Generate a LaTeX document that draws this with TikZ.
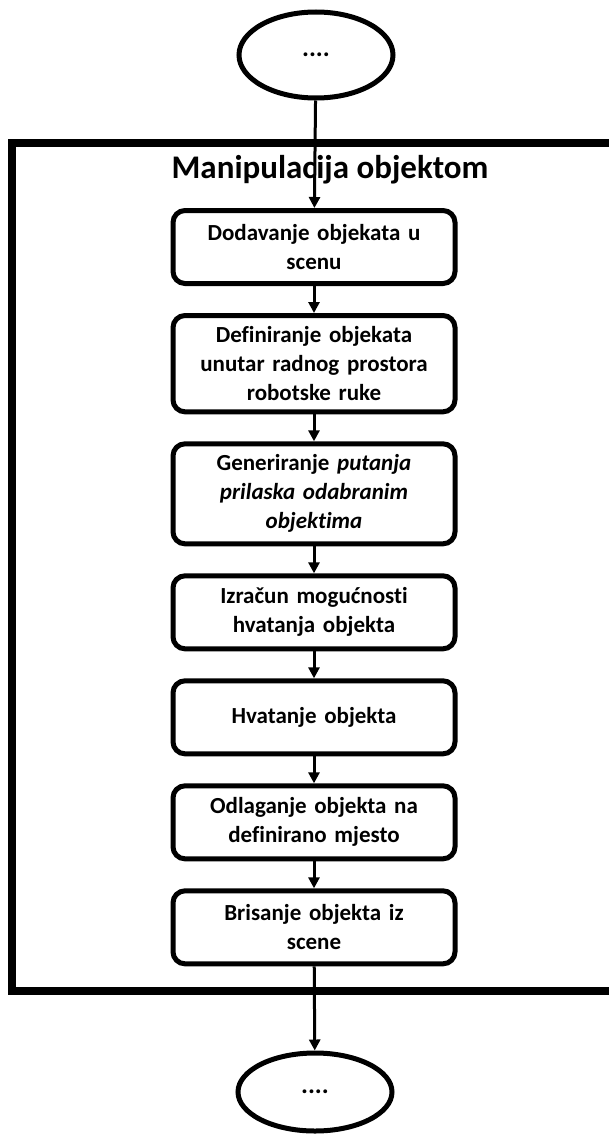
\documentclass[tikz,border=0pt]{standalone}
\usepackage{fontspec}
\setmainfont{Carlito}[Ligatures=NoCommon]
\usetikzlibrary{arrows.meta,positioning,shapes.geometric}

\begin{document}
\begin{tikzpicture}[x=1pt,y=-1pt,node distance=27pt,>={Triangle[length=11pt,width=11pt]},
font=\fontsize{23}{29}\selectfont\bfseries,
stepbox/.style={draw,line width=5pt,rounded corners=12pt,minimum width=282pt,minimum height=73pt,text width=266pt,align=center,inner xsep=5pt,inner ysep=11pt},
term/.style={draw,ellipse,line width=5pt,minimum width=154pt,minimum height=86pt,inner sep=0pt},
frame/.style={draw,line width=8pt},
arr/.style={->,line width=3pt}]
\clip (0,0) rectangle (609,1135);
\draw[frame] (12,143) rectangle (640,991);
\node (title) at (330,170) {\fontsize{33}{38}\selectfont Manipulacija objektom};
\node[term] (start) at (316,55) {\fontsize{26}{30}\selectfont ....};
\node[stepbox] (add) at (314,247) {Dodavanje objekata u\\scenu};
\node[stepbox,below=of add] (def) {Definiranje objekata\\unutar radnog prostora\\robotske ruke};
\node[stepbox,below=of def] (gen) {Generiranje \textit{putanja}\\\textit{prilaska odabranim}\\\textit{objektima}};
\node[stepbox,below=of gen] (calc) {Izračun mogućnosti\\hvatanja objekta};
\node[stepbox,below=of calc] (grasp) {Hvatanje objekta};
\node[stepbox,below=of grasp] (place) {Odlaganje objekta na\\definirano mjesto};
\node[stepbox,below=of place] (del) {Brisanje objekta iz\\scene};
\node[term,minimum height=78pt] (end) at (315,1092) {\fontsize{26}{30}\selectfont ....};
\draw[arr] (start)--(add);
\draw[arr] (add)--(def);
\draw[arr] (def)--(gen);
\draw[arr] (gen)--(calc);
\draw[arr] (calc)--(grasp);
\draw[arr] (grasp)--(place);
\draw[arr] (place)--(del);
\draw[arr] (del)--(end);
\end{tikzpicture}
\end{document}
